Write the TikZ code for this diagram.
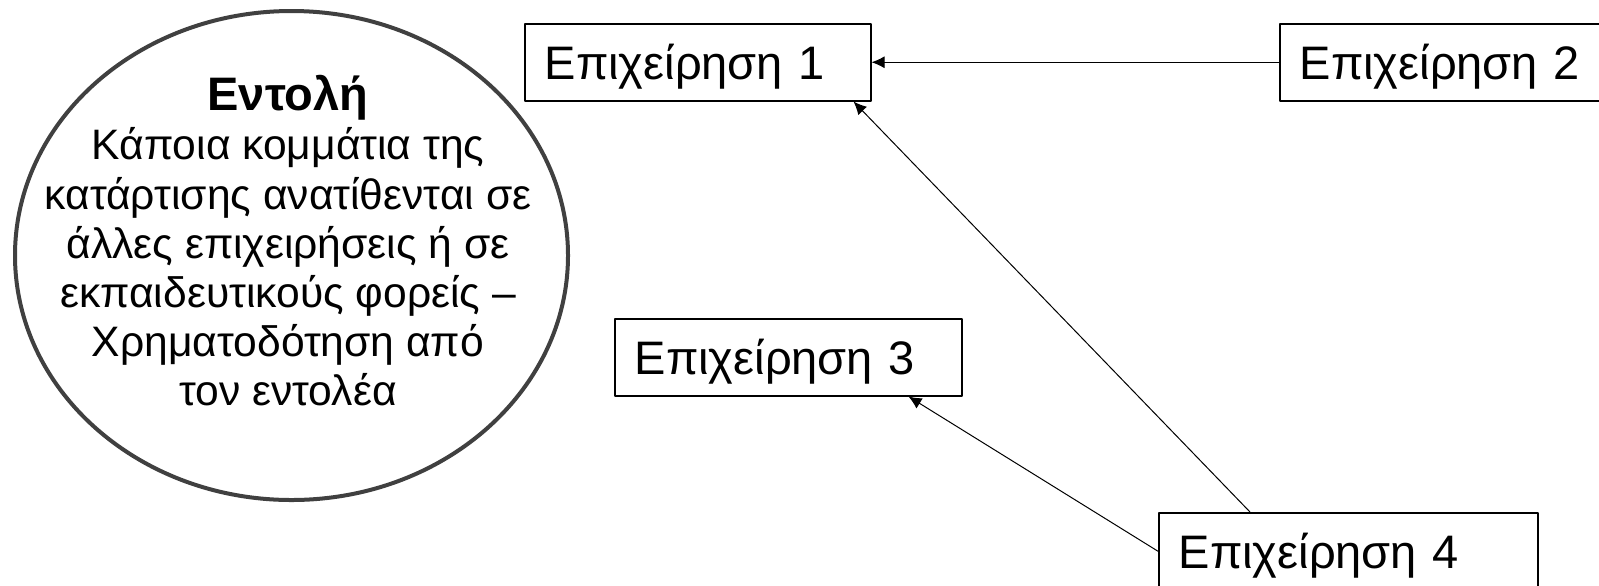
\documentclass[tikz,border=0pt]{standalone}
\usepackage{fontspec}
\setmainfont{Liberation Sans}
\usetikzlibrary{shapes.geometric,arrows.meta}
\definecolor{rim}{HTML}{404040}
\tikzset{firm/.style={draw, line width=.75pt, anchor=north west, align=left, inner xsep=10pt, inner ysep=0pt,
    minimum height=38.5pt, text height=17pt, text depth=0pt, font=\fontsize{23.5}{28}\selectfont}}
\begin{document}
\begin{tikzpicture}[>={Latex[length=6.5pt,width=6pt]}, line join=round, x=.5pt, y=-.5pt]
            \useasboundingbox (0,0) rectangle (1599,585);
            % mandate
            \node[ellipse, draw=rim, line width=2pt, minimum width=276.5pt, minimum height=244.5pt] (ent) at (291.5,255.5) {};
            \node[anchor=north, inner sep=0pt, align=center, font=\fontsize{21.3}{24.6}\selectfont] (enttext) at (288,75)
                {{\fontsize{23.5}{24.6}\selectfont\bfseries Εντολή}\\Κάποια κομμάτια της\\κατάρτισης ανατίθενται σε\\άλλες επιχειρήσεις ή σε\\εκπαιδευτικούς φορείς –\\Χρηματοδότηση από\\τον εντολέα};
            % firms
            \node[firm, text width=153pt] (b1) at (524,23) {Επιχείρηση~1};
            \node[firm, text width=139.75pt] (b2) at (1279,23) {Επιχείρηση~2};
            \node[firm, text width=153.5pt] (b3) at (614,318) {Επιχείρηση~3};
            \node[firm, text width=169.5pt] (b4) at (1158,512) {Επιχείρηση~4};
            \draw[->, line width=.5pt] (b2.west) -- (b1.east);
            \draw[->, line width=.5pt] ([xshift=46pt]b4.north west) -- ([xshift=-9pt]b1.south east);
            \draw[->, line width=.5pt] (b4.west) -- ([xshift=-27pt]b3.south east);
    \end{tikzpicture}
\end{document}
